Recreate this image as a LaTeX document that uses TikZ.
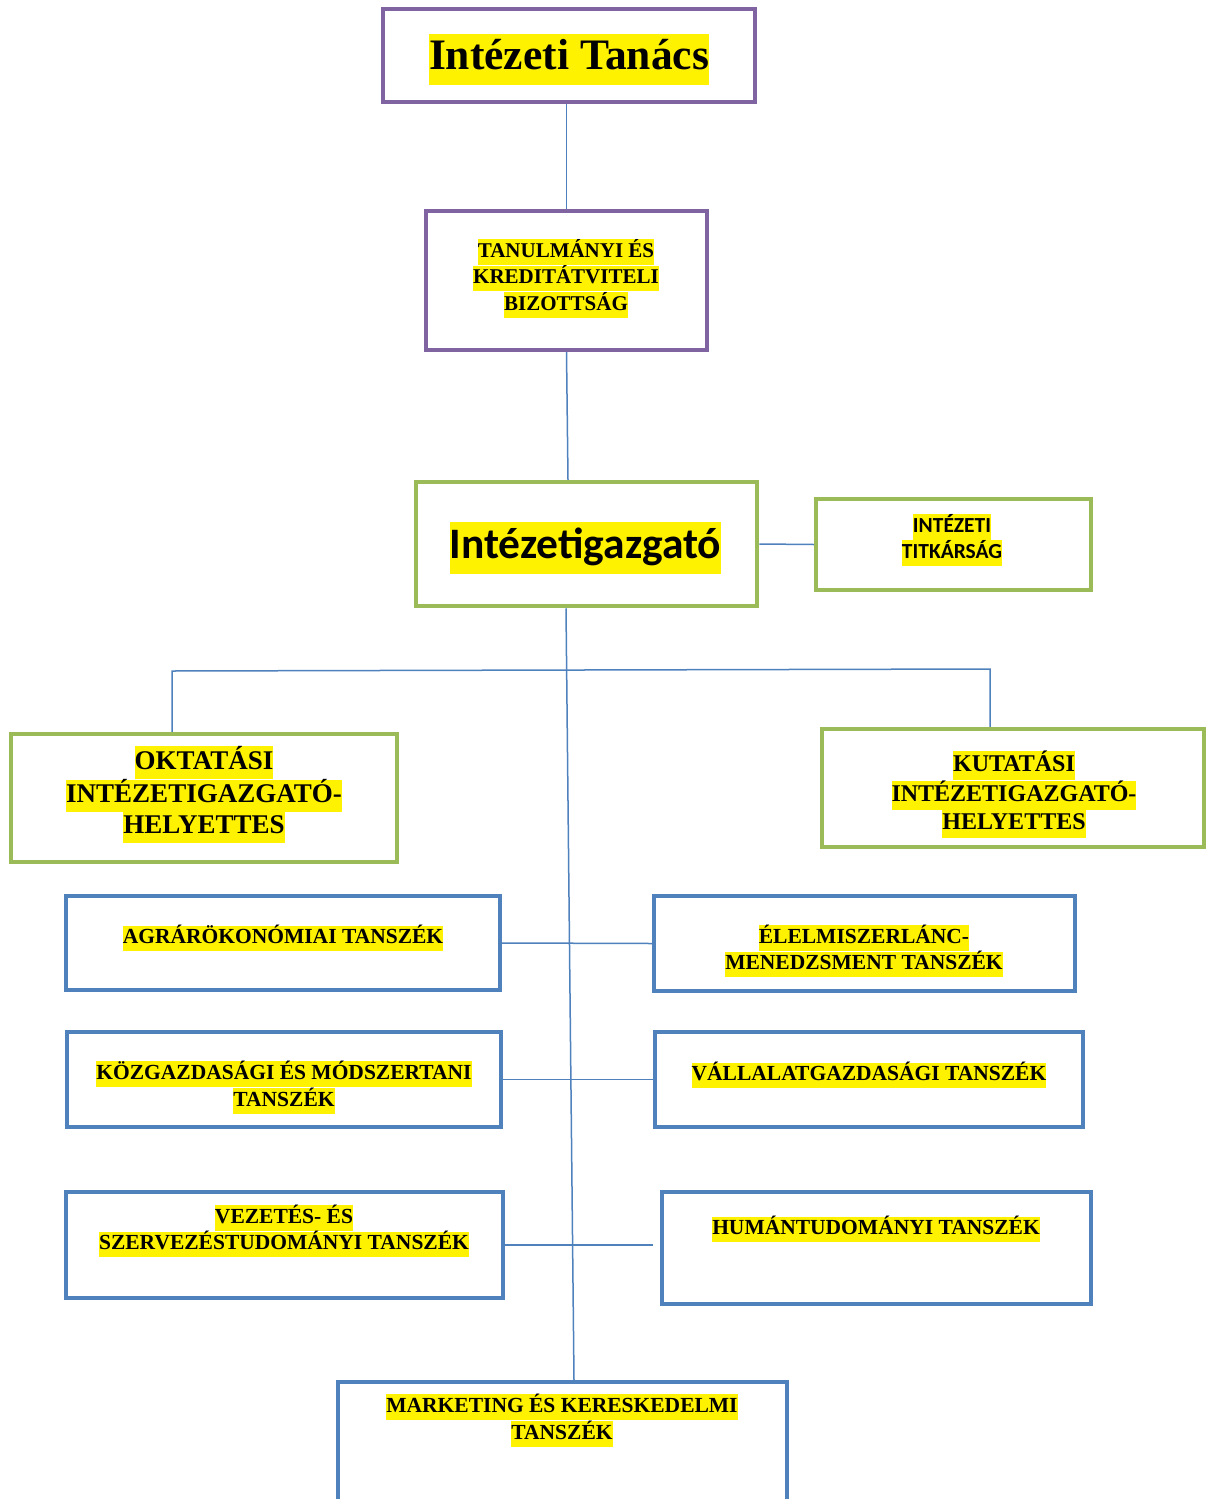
\documentclass[tikz,border=0pt]{standalone}
\usepackage{fontspec}
\setmainfont{Liberation Serif}
\newfontfamily\calfont{Carlito}
\definecolor{purp}{HTML}{8064A2}
\definecolor{grn}{HTML}{9BBB59}
\definecolor{blu}{HTML}{4F81BD}
\newcommand\hl[1]{{\setlength{\fboxsep}{0pt}\colorbox{yellow}{\strut #1}}}
\tikzset{
  boxp/.style={draw=purp, line width=4pt, fill=white, inner sep=0pt},
  boxg/.style={draw=grn, line width=4.5pt, fill=white, inner sep=0pt},
  boxb/.style={draw=blu, line width=4pt, fill=white, inner sep=0pt},
  lbl/.style={inner sep=0pt, align=center},
  tnr/.style 2 args={lbl, font=\bfseries\fontsize{#1}{#2}\selectfont},
  conn/.style={draw=blu, line width=1.5pt}
}
\begin{document}
\begin{tikzpicture}[x=1pt,y=-1pt]
\useasboundingbox (0,0) rectangle (1206,1499);
\clip (0,0) rectangle (1206,1499);
\fill[white] (0,0) rectangle (1206,1499);

% boxes
\node[boxp, minimum width=372, minimum height=93] (IT) at (569,55.5) {};
\node[boxp, minimum width=281, minimum height=139] (TKB) at (566.5,280.5) {};
\node[boxg, minimum width=341, minimum height=124] (IG) at (586.5,544) {};
\node[boxg, minimum width=275, minimum height=91] (TIT) at (953.5,544.5) {};
\node[boxg, minimum width=386, minimum height=128] (OKT) at (204,798) {};
\node[boxg, minimum width=382, minimum height=118] (KUT) at (1013,788) {};
\node[boxb, minimum width=434, minimum height=94] (AGR) at (283,943) {};
\node[boxb, minimum width=421, minimum height=95] (ELE) at (864.5,943.5) {};
\node[boxb, minimum width=434, minimum height=95] (KOZ) at (284,1079.5) {};
\node[boxb, minimum width=428, minimum height=95] (VAL) at (869,1079.5) {};
\node[boxb, minimum width=437, minimum height=106] (VEZ) at (284.5,1245) {};
\node[boxb, minimum width=429, minimum height=112] (HUM) at (876.5,1248) {};
\node[boxb, minimum width=449, minimum height=148] (MKT) at (562.5,1456) {};

% connectors
\coordinate (hl) at (172,671);
\coordinate (hr) at (990,669);
\draw[conn] (TKB.north) -- (TKB.north |- IT.south);
\draw[conn] (TKB.south) -- ([xshift=-18.5pt]IG.north);
\draw[conn] (IG.east) -- (TIT.west);
\draw[conn] ([xshift=-20.5pt]IG.south) -- ([xshift=11.5pt]MKT.north);
\draw[conn] (hl |- OKT.north) -- (hl) -- (hr) -- (hr |- KUT.north);
\draw[conn] (AGR.east) -- (ELE.west);
\draw[conn] (KOZ.east) -- (VAL.west);
\draw[conn, shorten >=7pt] (VEZ.east) -- (VEZ.east -| HUM.west);

% texts
\node[tnr={43.5}{51}] (tIT) at (569,59) {\hl{Intézeti Tanács}};
\node[tnr={21}{24.5}] (tTKB) at (566,278.5) {\hl{TANULMÁNYI ÉS}\\\hl{KREDITÁTVITELI}\\\hl{BIZOTTSÁG}};
\node[lbl, font=\calfont\bfseries\fontsize{43.5}{52}\selectfont] (tIG) at (585.5,548) {\hl{Intézetigazgató}};
\node[lbl, font=\calfont\bfseries\fontsize{21.5}{26}\selectfont] (tTIT) at (952,540) {\hl{INTÉZETI}\\\hl{TITKÁRSÁG}};
\node[tnr={27}{30.5}] (tOKT) at (204,794.5) {\hl{OKTATÁSI}\\\hl{INTÉZETIGAZGATÓ-}\\\hl{HELYETTES}};
\node[tnr={24}{28}] (tKUT) at (1014,794) {\hl{KUTATÁSI}\\\hl{INTÉZETIGAZGATÓ-}\\\hl{HELYETTES}};
\node[tnr={21.5}{25}] (tAGR) at (283,938.5) {\hl{AGRÁRÖKONÓMIAI TANSZÉK}};
\node[tnr={21.5}{25}] (tELE) at (864,951) {\hl{ÉLELMISZERLÁNC-}\\\hl{MENEDZSMENT TANSZÉK}};
\node[tnr={21.5}{25}] (tKOZ) at (284,1087.5) {\hl{KÖZGAZDASÁGI ÉS MÓDSZERTANI}\\\hl{TANSZÉK}};
\node[tnr={21.5}{25}] (tVAL) at (869,1075.5) {\hl{VÁLLALATGAZDASÁGI TANSZÉK}};
\node[tnr={21.5}{25}] (tVEZ) at (284,1231) {\hl{VEZETÉS- ÉS}\\\hl{SZERVEZÉSTUDOMÁNYI TANSZÉK}};
\node[tnr={21.5}{25}] (tHUM) at (876,1229.5) {\hl{HUMÁNTUDOMÁNYI TANSZÉK}};
\node[tnr={21.5}{25}] (tMKT) at (562,1420.5) {\hl{MARKETING ÉS KERESKEDELMI}\\\hl{TANSZÉK}};
\end{tikzpicture}
\end{document}
